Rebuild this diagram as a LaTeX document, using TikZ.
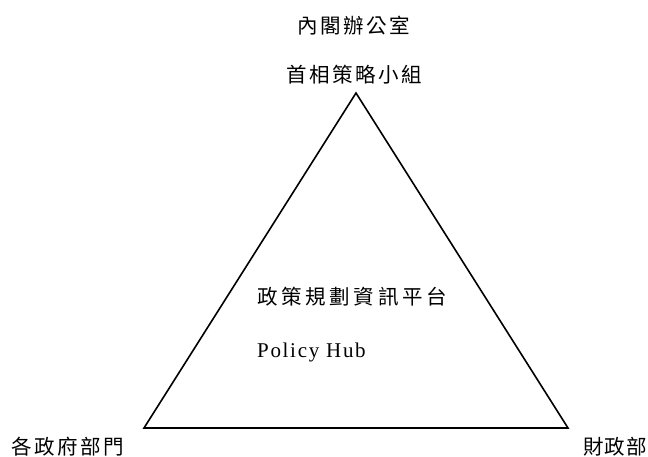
\documentclass[tikz,border=0pt]{standalone}
\usepackage{fontspec}
\newfontfamily\cjk[LetterSpace=12]{Noto Sans CJK TC}
\newfontfamily\serifls[LetterSpace=8]{Liberation Serif}
\begin{document}
\begin{tikzpicture}[x=1pt,y=-1pt,
  lbl/.style={inner sep=0pt, font=\cjk\fontsize{20.5}{22}\selectfont},
  edge/.style={line width=1.6pt, line join=miter}]
\useasboundingbox (0,0) rectangle (648,457);
\coordinate (apex) at (356,93);
\coordinate (bl) at (144,428);
\coordinate (br) at (568,428);
\draw[edge] (apex) -- (bl) -- (br) -- cycle;
\node[lbl] (cab) at (354,26) {內閣辦公室};
\node[lbl] (pmsu) at (354,75) {首相策略小組};
\node[lbl, anchor=west, font=\cjk\fontsize{20.5}{22}\selectfont\addfontfeature{LetterSpace=18}] (plat) at (257,297) {政策規劃資訊平台};
\node[inner sep=0pt, anchor=west, font=\serifls\fontsize{21}{22}\selectfont] (hub) at (257,352) {Policy Hub};
\node[lbl] (dept) at (68,447) {各政府部門};
\node[lbl, font=\cjk\fontsize{20.5}{22}\selectfont\addfontfeature{LetterSpace=5}] (fin) at (615,447) {財政部};
\end{tikzpicture}
\end{document}
